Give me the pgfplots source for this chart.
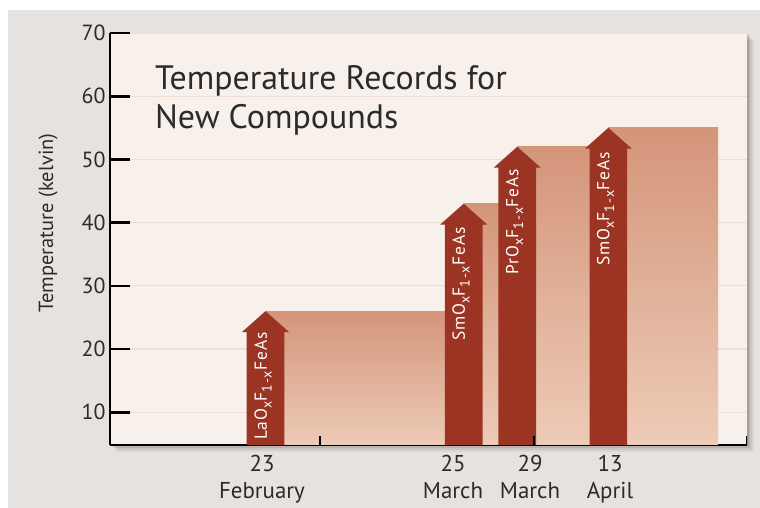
\documentclass[border=0pt]{standalone}
\usepackage{pgfplots}
\pgfplotsset{compat=1.18}
\usepackage{fontspec}
\setmainfont{PT Sans}

\definecolor{pagegray}{HTML}{E5E2DF}
\definecolor{panel}{HTML}{F8F0EB}
\definecolor{gridpink}{HTML}{EEDDD5}
\definecolor{arrowred}{HTML}{9B3422}
\definecolor{steptop}{HTML}{D4957A}
\definecolor{stepbot}{HTML}{EDCBB7}
\definecolor{ink}{HTML}{2B2B2B}

\pgfdeclarelayer{canvas}
\pgfsetlayers{canvas,main}

\newcommand{\sub}[1]{\raisebox{-0.28em}{\fontsize{14}{14}\selectfont\addfontfeature{LetterSpace=6}#1}}
\newcommand{\cmpd}[1]{#1O\sub{x}F\sub{1-x}FeAs}

\begin{document}
\begin{tikzpicture}[x=1bp,y=1bp]
\begin{axis}[
  scale only axis, width=637bp, height=412bp,
  xmin=0, xmax=637, ymin=4.83, ymax=70,
  axis lines*=left,
  axis line style={line width=2.6bp, black},
  axis background/.style={fill=panel},
  ymajorgrids, grid style={gridpink, line width=1.2bp},
  ytick={10,20,...,70},
  tick align=inside,
  major tick length=20bp,
  ytick style={line width=2.6bp, black},
  xtick={152,343,420,500},
  xticklabels={{23\\February},{25\\March},{29\\March},{13\\April}},
  major x tick style={draw=none},
  tick label style={text=ink},
  yticklabel style={font=\fontsize{22}{25}\selectfont, xshift=-1bp},
  xticklabel style={font=\fontsize{23}{27}\selectfont, align=center, yshift=-7bp},
  /pgf/number format/assume math mode=true,
  ylabel={Temperature (kelvin)},
  ylabel style={font=\fontsize{20.5}{22}\selectfont, text=ink,
    at={(axis description cs:-0.097,0.539)}, anchor=center},
]
\coordinate (corner) at (rel axis cs:0,0);

% record steps: each record holds until the next one is announced
\addplot[draw=none, top color=steptop, bottom color=stepbot]
  coordinates {(155.5,4.83) (155.5,26) (353.7,26) (353.7,4.83)} -- cycle;
\addplot[draw=none, top color=steptop, bottom color=stepbot]
  coordinates {(353.7,4.83) (353.7,43) (407.2,43) (407.2,4.83)} -- cycle;
\addplot[draw=none, top color=steptop, bottom color=stepbot]
  coordinates {(407.2,4.83) (407.2,52) (498.3,52) (498.3,4.83)} -- cycle;
\addplot[draw=none, top color=steptop, bottom color=stepbot]
  coordinates {(498.3,4.83) (498.3,55) (608,55) (608,4.83)} -- cycle;

% arrows, tip at the record temperature
\addplot[draw=none, fill=arrowred] coordinates {
  (136.7,4.83) (136.7,22.7) (132,22.7) (155.5,26) (179,22.7) (174.3,22.7) (174.3,4.83)} -- cycle;
\addplot[draw=none, fill=arrowred] coordinates {
  (334.9,4.83) (334.9,39.7) (330.2,39.7) (353.7,43) (377.2,39.7) (372.5,39.7) (372.5,4.83)} -- cycle;
\addplot[draw=none, fill=arrowred] coordinates {
  (388.4,4.83) (388.4,48.7) (383.7,48.7) (407.2,52) (430.7,48.7) (426,48.7) (426,4.83)} -- cycle;
\addplot[draw=none, fill=arrowred] coordinates {
  (479.5,4.83) (479.5,51.7) (474.8,51.7) (498.3,55) (521.8,51.7) (517.1,51.7) (517.1,4.83)} -- cycle;

% short upward marks on the date axis
\pgfplotsinvokeforeach{210,424,637}{
  \draw[black, line width=2bp] (axis cs:#1,4.83) -- ++(0bp,9bp);
}

% compound names along the shafts
\begin{scope}[every node/.style={rotate=90, text=white, inner sep=0pt,
    font=\fontsize{17.5}{18}\selectfont\addfontfeature{LetterSpace=6}}]
\node[anchor=west] at (axis cs:153,5.6) {\cmpd{La}};
\node[anchor=east] at (axis cs:351,39.3) {\cmpd{Sm}};
\node[anchor=east] at (axis cs:404.5,48.5) {\cmpd{Pr}};
\node[anchor=east] at (axis cs:495.5,51.2) {\cmpd{Sm}};
\end{scope}
\end{axis}

% page tone, panel shadow and title, placed from the axis corner
\begin{scope}[shift={(corner)}]
\begin{pgfonlayer}{canvas}
  \fill[white] (-110,-63) rectangle (650,445);
  \fill[pagegray] (-102,-63) rectangle (650,435);
  \foreach \d/\o in {7/0.05,5/0.07,3/0.09,1.5/0.10}
    \fill[black,opacity=\o] (\d,-\d) rectangle (637+\d,412-\d);
\end{pgfonlayer}
\begin{scope}[every node/.style={anchor=base west, inner sep=0pt, text=ink,
    font=\fontsize{34}{38}\selectfont}]
  \node at (45,355) {Temperature Records for};
  \node at (45,316) {New Compounds};
\end{scope}
\end{scope}
\end{tikzpicture}
\end{document}
